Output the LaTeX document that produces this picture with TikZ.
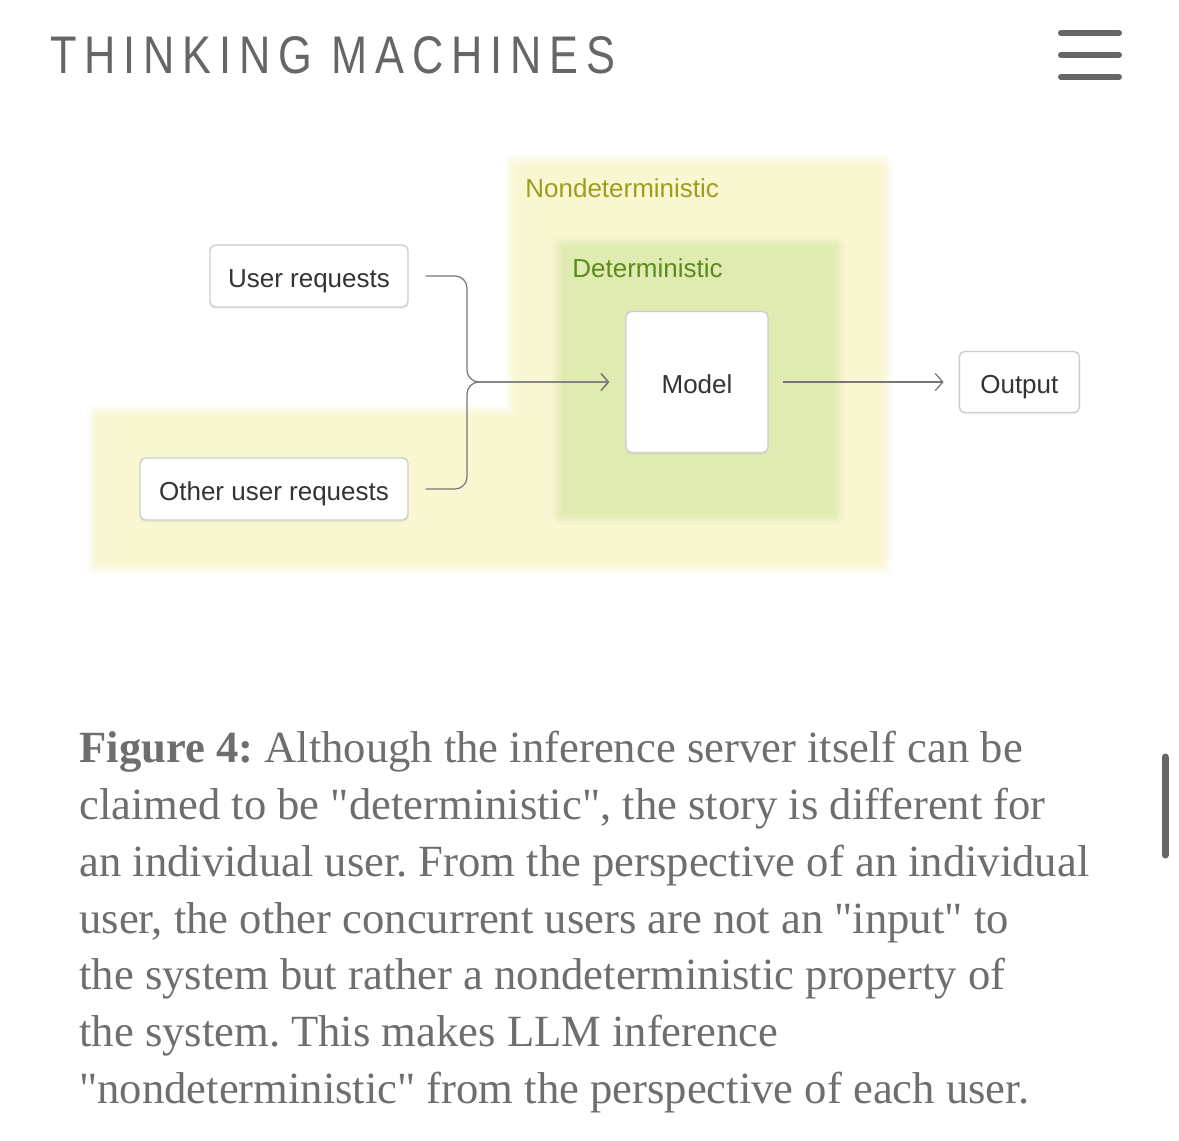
\documentclass[tikz,border=0pt]{standalone}
\usepackage{fontspec}
\setmainfont{Liberation Serif}
\setsansfont{Liberation Sans}
\newfontfamily\brandfont[LetterSpace=18]{Liberation Sans}
\usepackage{graphicx}
\usepackage{xcolor}
\usepackage{tikz}
\usetikzlibrary{arrows.meta,positioning,shadows}
\definecolor{tmYellow}{HTML}{F8F7D2}
\definecolor{tmGreen}{HTML}{E0EBB1}
\definecolor{tmOlive}{HTML}{9E9E1E}
\definecolor{tmLeaf}{HTML}{5C8A1C}
\definecolor{tmLine}{HTML}{767676}
\definecolor{tmBorder}{HTML}{CDCDCD}
\definecolor{tmText}{HTML}{333333}
\definecolor{tmGray}{HTML}{666666}
\definecolor{tmCap}{HTML}{6E6E6E}
\newcommand\tmlabel{\sffamily\fontsize{14.8}{17}\selectfont}
\newcommand\tmcap{\rmfamily\fontsize{25.4}{32.3}\selectfont\frenchspacing}
\newcommand\dq{\textquotedbl}
\tikzset{
  reqbox/.style={
    rectangle,
    rounded corners=3pt,
    draw=tmBorder,
    line width=0.8pt,
    fill=white,
    text=tmText,
    font=\tmlabel,
    inner sep=0pt,
    text height=13pt,
    text depth=0pt,
    minimum height=1.24cm,
    drop shadow={shadow xshift=0pt, shadow yshift=-1.2pt, opacity=0.10}
  },
  zonelabel/.style={anchor=base west, inner sep=0pt, font=\tmlabel},
  zone/.style={
    fill=#1,
    preaction={draw=#1, line width=0.42cm, opacity=0.2, line join=round},
    preaction={draw=#1, line width=0.28cm, opacity=0.35, line join=round},
    preaction={draw=#1, line width=0.14cm, opacity=0.6, line join=round}
  },
  link/.style={-{Straight Barb[length=1.5mm, width=3.4mm]}, line width=0.7pt, draw=tmLine},
  menubar/.style={line width=0.12cm, line cap=round, draw=tmGray}
}

\begin{document}
\begin{tikzpicture}[x=0.02cm, y=-0.02cm]
  \useasboundingbox (0,0) rectangle (1179,1140);
  \fill[white] (0,0) rectangle (1179,1140);

  % page header
  \node[anchor=north west, inner sep=0pt, text=tmGray] (brand) at (50,36)
    {\resizebox{11.3cm}{0.74cm}{\brandfont THINKING MACHINES}};
  \draw[menubar] (1061,33) -- (1119,33);
  \draw[menubar] (1061,55) -- (1119,55);
  \draw[menubar] (1061,77) -- (1119,77);

  % zones
  \path[zone=tmYellow] (515,165) -- (882,165) -- (882,564) -- (97,564)
    -- (97,415) -- (515,415) -- cycle;
  \path[zone=tmGreen] (562,247) rectangle (834,514);
  \node[zonelabel, text=tmOlive] (ndet) at (525,197) {Nondeterministic};
  \node[zonelabel, text=tmLeaf] (det) at (572,277) {Deterministic};

  % boxes
  \node[reqbox, minimum width=3.96cm] (ureq) at (309,276) {User requests};
  \node[reqbox, minimum width=5.36cm] (oreq) at (274,489) {Other user requests};
  \node[reqbox, minimum width=2.84cm, minimum height=2.82cm] (model) at (697,382) {Model};
  \node[reqbox, minimum width=2.4cm, minimum height=1.22cm, right=3.8cm of model] (out) {Output};

  % connectors
  \coordinate (merge) at (467,382);
  \draw[link, rounded corners=0.24cm, shorten <=0.34cm, shorten >=0.32cm]
    (ureq.east) -| (merge) -- (model.west);
  \draw[link, rounded corners=0.24cm, shorten <=0.34cm, shorten >=0.32cm]
    (oreq.east) -| (merge) -- (model.west);
  \draw[link, shorten <=0.28cm, shorten >=0.3cm] (model.east) -- (out.west);

  % caption
  \node[anchor=north west, inner sep=0pt, align=left, font=\tmcap, text=tmCap] (caption) at (79,731)
    {\textbf{Figure 4:} Although the inference server itself can be\\
     claimed to be \dq deterministic\dq, the story is different for\\
     an individual user. From the perspective of an individual\\
     user, the other concurrent users are not an \dq input\dq\ to\\
     the system but rather a nondeterministic property of\\
     the system. This makes LLM inference\\
     \dq nondeterministic\dq\ from the perspective of each user.};
  \draw[line width=0.14cm, line cap=round, draw=tmGray] (1165,757) -- (1165,855);
\end{tikzpicture}
\end{document}
